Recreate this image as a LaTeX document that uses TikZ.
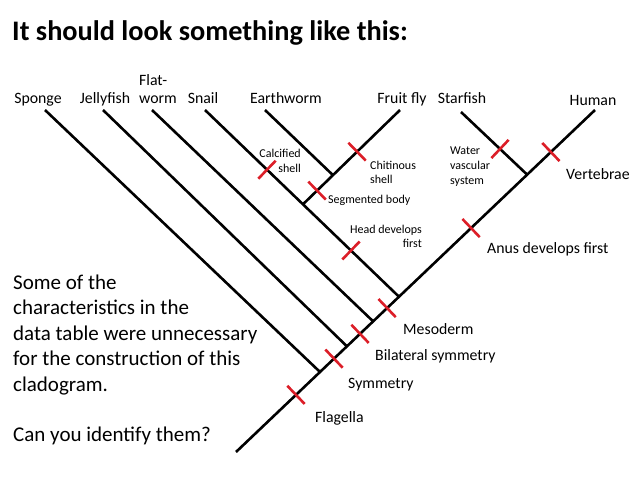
\documentclass[tikz,border=0pt]{standalone}
\usepackage{fontspec}
\setmainfont{Carlito}
\usetikzlibrary{calc}
\definecolor{tickred}{RGB}{220,30,40}
\def\trait(#1)(#2)(#3){\draw[trait] ($(#1)!#3!(#2)!12.5pt!90:(#2)$) -- ($(#1)!#3!(#2)!12.5pt!-90:(#2)$);}
\tikzset{
	branch/.style={line width=2.6pt},
	trait/.style={line width=2.6pt, draw=tickred},
	taxon/.style={inner sep=0pt, anchor=base, font=\fontsize{15.8}{18}\selectfont},
	feat/.style={inner sep=0pt, anchor=base west, font=\fontsize{15.8}{18}\selectfont},
	note/.style={inner sep=0pt, font=\fontsize{12}{15}\selectfont}
}

\begin{document}
\begin{tikzpicture}[x=1pt,y=-1pt]
				\useasboundingbox (0,0) rectangle (638,479);
				
				\node[anchor=base west, inner sep=0pt, font=\bfseries\fontsize{28.3}{32}\selectfont] (title) at (12,41) {It should look something like this:};
				
				\coordinate (root) at (236,452);
				\coordinate (tHu) at (595,110);
				\coordinate (tSp) at (45,110);
				\coordinate (tJe) at (103,110);
				\coordinate (tFl) at (152,110);
				\coordinate (tSn) at (205,110);
				\coordinate (tEw) at (265,110);
				\coordinate (tFf) at (400,110);
				\coordinate (tSt) at (461,112);
				
				\coordinate (jSp) at ($(root)!0.234!(tHu)$);
				\coordinate (jJe) at ($(root)!0.309!(tHu)$);
				\coordinate (jFl) at ($(root)!0.382!(tHu)$);
				\coordinate (jSn) at ($(root)!0.454!(tHu)$);
				\coordinate (jSt) at ($(root)!0.811!(tHu)$);
				\coordinate (jAr) at ($(tSn)!0.505!(jSn)$);
				\coordinate (jEw) at ($(jAr)!0.309!(tFf)$);
				
				\draw[branch] (root) -- (tHu);
				\draw[branch] (jSp) -- (tSp);
				\draw[branch] (jJe) -- (tJe);
				\draw[branch] (jFl) -- (tFl);
				\draw[branch] (jSn) -- (tSn);
				\draw[branch] (jAr) -- (tFf);
				\draw[branch] (jEw) -- (tEw);
				\draw[branch] (jSt) -- (tSt);
				
				\trait(root)(jSp)(0.714);
				\trait(jSp)(jJe)(0.52);
				\trait(jJe)(jFl)(0.5);
				\trait(jFl)(jSn)(0.54);
				\trait(jSn)(jSt)(0.5625);
				\trait(jSt)(tHu)(0.35);
				\trait(tSn)(jAr)(0.633);
				\trait(jAr)(jSn)(0.5);
				\trait(jAr)(jEw)(0.47);
				\trait(jEw)(tFf)(0.36);
				\trait(tSt)(jSt)(0.59);
				
				\node[taxon] (sponge) at (38,103) {Sponge};
				\node[taxon] (jelly) at (105,103) {Jellyfish};
				\node[taxon, anchor=base west] (flat) at (139,85) {Flat-};
				\node[taxon, anchor=base west] (worm) at (139,103) {worm};
				\node[taxon] (snail) at (203,103) {Snail};
				\node[taxon] (earthworm) at (286,103) {Earthworm};
				\node[taxon] (fly) at (402,103) {Fruit fly};
				\node[taxon] (starfish) at (462,103) {Starfish};
				\node[taxon] (human) at (593,105) {Human};
				
				\node[feat] (vert) at (566,179) {Vertebrae};
				\node[feat] (anus) at (487,253) {Anus develops first};
				\node[feat] (meso) at (403,334) {Mesoderm};
				\node[feat] (bilat) at (375,360) {Bilateral symmetry};
				\node[feat] (sym) at (348,388) {Symmetry};
				\node[feat] (flag) at (315,422) {Flagella};
				
				\node[note, align=right, anchor=north east] (calc) at (301,148.5) {Calcified\\shell};
				\node[note, align=left, anchor=north west, font=\fontsize{12}{14}\selectfont] (chit) at (370,160.5) {Chitinous\\shell};
				\node[note, anchor=base west] (seg) at (328,203) {Segmented body};
				\node[note, align=right, anchor=north east, font=\fontsize{12}{14}\selectfont] (head) at (422,224.5) {Head develops\\first};
				\node[note, align=left, anchor=north west] (water) at (450,146.3) {Water\\vascular\\system};
				
				\node[anchor=north west, inner sep=0pt, align=left, font=\fontsize{21}{25.4}\selectfont] (question) at (13,274.8) {Some of the\\characteristics in the\\data table were unnecessary\\for the construction of this\\cladogram.\\[25.4pt]Can you identify them?};
			\end{tikzpicture}
\end{document}
